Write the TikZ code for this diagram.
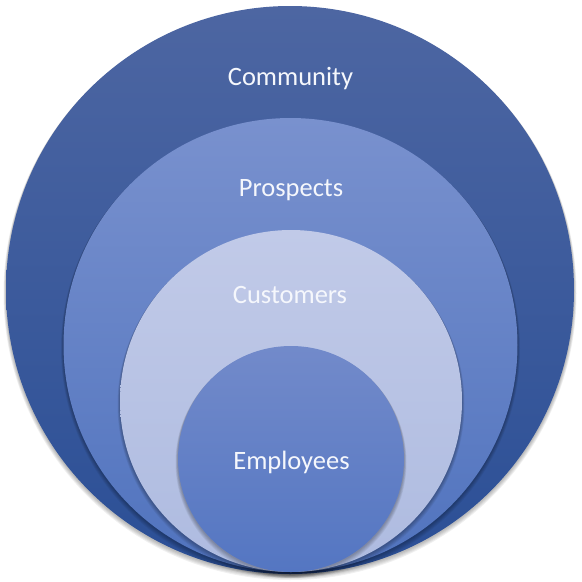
\documentclass[tikz,border=0pt]{standalone}
\usepackage{fontspec}
\setmainfont{Carlito}
\definecolor{comTop}{RGB}{77,102,162}
\definecolor{comBot}{RGB}{43,79,150}
\definecolor{proTop}{RGB}{121,145,206}
\definecolor{proBot}{RGB}{80,115,190}
\definecolor{cusTop}{RGB}{193,202,232}
\definecolor{cusBot}{RGB}{174,187,224}
\definecolor{empTop}{RGB}{114,138,202}
\definecolor{empBot}{RGB}{84,118,194}
\definecolor{txt}{RGB}{245,247,252}
\newcommand{\softshadow}[3]{%
  \foreach \k in {1,...,5}{
    \fill[black,opacity=0.06] (#1,#2+0.6*\k+0.5) circle[radius=#3+0.5*\k];
  }}
\begin{document}
\begin{tikzpicture}[x=1pt,y=-1pt,
  ring/.style={circle,inner sep=0pt,outer sep=0pt,draw=none},
  lbl/.style={font=\fontsize{26.5}{30}\selectfont,text=txt,inner sep=0pt,anchor=base}]
\useasboundingbox (0,0) rectangle (582,582);
% outer circle
\softshadow{290}{290}{284}
\node[ring,minimum size=568pt,top color=comTop,bottom color=comBot] (community) at (290,290) {};
\softshadow{290.5}{345}{227}
\node[ring,minimum size=454pt,top color=proTop,bottom color=proBot] (prospects) at (290.5,345) {};
\softshadow{291}{401}{171}
\node[ring,minimum size=342pt,top color=cusTop,bottom color=cusBot] (customers) at (291,401) {};
\softshadow{291}{459}{113}
\node[ring,minimum size=226pt,top color=empTop,bottom color=empBot] (employees) at (291,459) {};
% labels
\node[lbl] (tcom) at (290.5,85) {Community};
\node[lbl] (tpro) at (291,196) {Prospects};
\node[lbl] (tcus) at (290,303) {Customers};
\node[lbl] (temp) at (291.5,469) {Employees};
\end{tikzpicture}
\end{document}
